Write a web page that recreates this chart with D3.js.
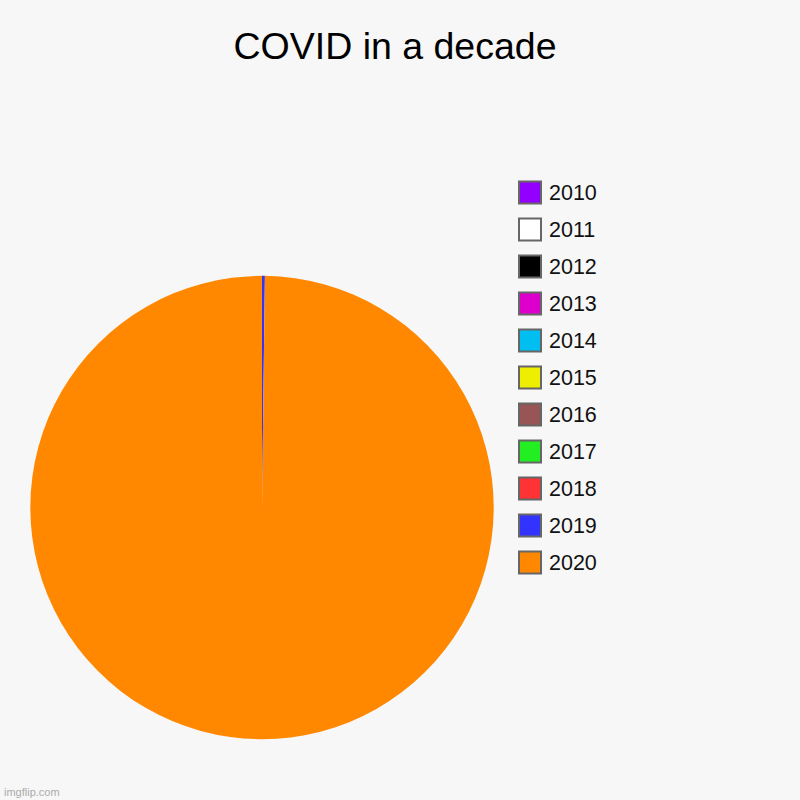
<!DOCTYPE html>
<html lang="en">
<head>
    <meta charset="UTF-8">
    <title>COVID in a decade</title>
    <script src="https://cdn.jsdelivr.net/npm/d3@7"></script>
    <style>
        body { margin: 0; background: #f7f7f7; }
    </style>
</head>
<body>

<script>
    // pie of years, 2020 takes almost everything
    var years = ["2010", "2011", "2012", "2013", "2014", "2015", "2016", "2017", "2018", "2019", "2020"];
    var values = [0, 0, 0, 0, 0, 0, 0, 0, 0, 2, 1000];
    var colors = ["#9400ff", "#ffffff", "#000000", "#dd00cc", "#00bff0", "#eeee00",
                  "#975555", "#22ee22", "#ff3333", "#3333ff", "#ff8800"];

    var width = 800,
        height = 800;

    var svg = d3.select("body").append("svg")
        .attr("width", width)
        .attr("height", height);

    svg.append("rect")
        .attr("width", width)
        .attr("height", height)
        .attr("fill", "#f7f7f7");

    svg.append("text")
        .attr("x", 395)
        .attr("y", 59)
        .attr("text-anchor", "middle")
        .attr("font-family", "Liberation Sans, Arial, sans-serif")
        .attr("font-size", 37.5)
        .attr("fill", "#000")
        .text("COVID in a decade");

    var color = d3.scaleOrdinal().domain(years).range(colors);

    var data = years.map(function (y, i) { return {year: y, value: values[i]}; });

    var pie = d3.pie()
        .sort(null)
        .value(function (d) { return d.value; });

    var arc = d3.arc()
        .innerRadius(0)
        .outerRadius(231.7);

    var g = svg.append("g")
        .attr("transform", "translate(262,507.5)");

    g.selectAll("path")
        .data(pie(data))
        .enter()
        .append("path")
        .attr("d", arc)
        .attr("fill", function (d) { return color(d.data.year); });

    // legend
    var y = d3.scalePoint().domain(years).range([192.5, 562.5]);

    var legend = svg.append("g")
        .selectAll("g")
        .data(years)
        .enter()
        .append("g")
        .attr("transform", function (d) { return "translate(519," + y(d) + ")"; });

    legend.append("rect")
        .attr("x", 0)
        .attr("y", -11)
        .attr("width", 22)
        .attr("height", 22)
        .attr("fill", function (d) { return color(d); })
        .attr("stroke", "#666")
        .attr("stroke-width", 2);

    legend.append("text")
        .attr("x", 30)
        .attr("y", 7.5)
        .attr("font-family", "Liberation Sans, Arial, sans-serif")
        .attr("font-size", 21.5)
        .attr("fill", "#111")
        .text(function (d) { return d; });

    svg.append("text")
        .attr("x", 4)
        .attr("y", 796)
        .attr("font-family", "Liberation Sans, Arial, sans-serif")
        .attr("font-size", 11)
        .attr("fill", "#aaa")
        .text("imgflip.com");
</script>

</body>
</html>
